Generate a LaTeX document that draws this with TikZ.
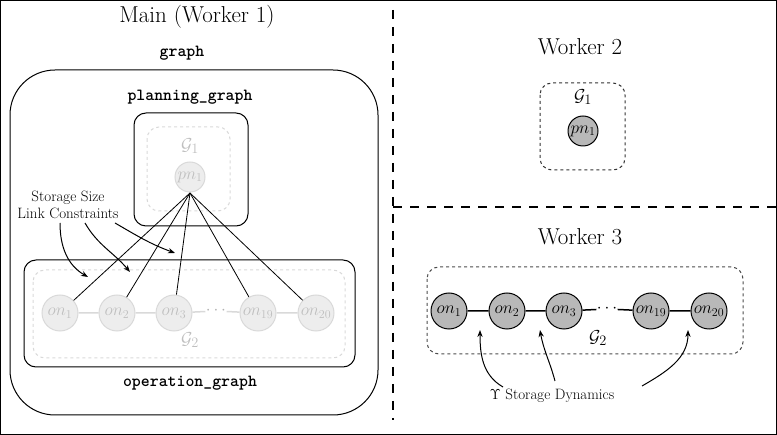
\documentclass[tikz,border=0pt]{standalone}
\usetikzlibrary{arrows.meta}
\begin{document}
\begin{tikzpicture}[x=1pt,y=-1pt,line width=1pt,
  lbl/.style={font=\fontsize{23}{26}\selectfont},
  tt/.style={font=\fontsize{17}{20}\selectfont\ttfamily\bfseries},
  small/.style={font=\fontsize{15}{17}\selectfont, align=center, inner sep=1pt},
  on/.style={circle,draw=black,fill=black!28,minimum size=36pt,inner sep=0pt,font=\fontsize{18}{20}\selectfont},
  pn/.style={circle,draw=black,fill=black!28,minimum size=30pt,inner sep=0pt,font=\fontsize{18}{20}\selectfont},
  fon/.style={on,draw=black!15,fill=black!7,text=black!25},
  fpn/.style={pn,draw=black!15,fill=black!7,text=black!25},
  gl/.style={font=\fontsize{19}{21}\selectfont},
  arr/.style={-{Stealth[length=7pt]}},
  dbox/.style={dashed,rounded corners=12pt}]
\useasboundingbox (0,0) rectangle (777,435);
\draw[line width=1.5pt] (0.7,0.7) rectangle (776.3,434.3);
% separators
\coordinate (v1) at (393,10); \coordinate (v2) at (393,420);
\coordinate (h1) at (393,207); \coordinate (h2) at (777,207);
\draw[line width=1.5pt,dash pattern=on 9pt off 8pt] (v1) -- (v2);
\draw[line width=1.5pt,dash pattern=on 9pt off 8pt] (h1) -- (h2);
% Main
\node[lbl] (mainl) at (197,17) {Main (Worker 1)};
\node[tt] (graphl) at (182,53) {graph};
\draw[rounded corners=45pt] (10,70) rectangle (378,415);
\node[tt] (pgl) at (190,97) {planning\_graph};
\draw[rounded corners=12pt] (134,113) rectangle (248,226);
\draw[dbox,draw=black!15] (147,127) rectangle (230,211);
\node[gl,text=black!25] (g1a) at (190,146) {$\mathcal{G}_1$};
\node[fpn] (p) at (190,177) {$pn_1$};
\draw[rounded corners=12pt] (24,260) rectangle (355,367);
\draw[dbox,draw=black!15] (33,270) rectangle (345,358);
\node[fon] (a1) at (60,313) {$on_1$};
\node[fon] (a2) at (117,313) {$on_2$};
\node[fon] (a3) at (174,313) {$on_3$};
\node[fon] (a19) at (258,313) {$on_{19}$};
\node[fon] (a20) at (316,313) {$on_{20}$};
\node[text=black!30,inner sep=0pt,gl] (ad) at (216,311) {$\cdots$};
\draw[black!15,line width=1.5pt] (a1)--(a2) (a2)--(a3) (a3)--(ad) (ad)--(a19) (a19)--(a20);
\node[gl,text=black!25] (g2a) at (190,340) {$\mathcal{G}_2$};
\node[tt] (ogl) at (190,383) {operation\_graph};
\coordinate (pb) at (190,193);
\foreach \n in {a1,a2,a3,a19,a20} \draw[line width=0.8pt] (pb) -- (\n);
\node[small] (ssl) at (68,205) {Storage Size\\Link Constraints};
\coordinate (c1) at (88,277); \coordinate (c2) at (130,272); \coordinate (c3) at (175,253);
\draw[arr] (60,223) to[out=-90,in=150] (c1);
\draw[arr] (85,223) to[out=-60,in=130] (c2);
\draw[arr] (115,223) to[out=-30,in=160] (c3);
% Worker 2
\node[lbl] (w2) at (580,47) {Worker 2};
\draw[dbox,draw=black!80] (540,83) rectangle (625,170);
\node[gl] (g1b) at (583,97) {$\mathcal{G}_1$};
\node[pn] (q) at (583,131) {$pn_1$};
% Worker 3
\node[lbl] (w3) at (580,237) {Worker 3};
\draw[dbox,draw=black!70] (427,267) rectangle (743,354);
\node[on] (b1) at (449,311) {$on_1$};
\node[on] (b2) at (507,311) {$on_2$};
\node[on] (b3) at (564,311) {$on_3$};
\node[on] (b19) at (651,311) {$on_{19}$};
\node[on] (b20) at (709,311) {$on_{20}$};
\node[inner sep=0pt,gl] (bd) at (607,309) {$\cdots$};
\draw[line width=1.5pt] (b1)--(b2) (b2)--(b3) (b3)--(bd) (bd)--(b19) (b19)--(b20);
\node[gl] (g2b) at (598,338) {$\mathcal{G}_2$};
\node[small] (ysd) at (552,396) {$\Upsilon$ Storage Dynamics};
\coordinate (d1) at (480,330); \coordinate (d2) at (540,330); \coordinate (d3) at (688,330);
\draw[arr] (503,387) to[out=150,in=-90] (d1);
\draw[arr] (555,381) to[out=105,in=-80] (d2);
\draw[arr] (642,386) to[out=30,in=-90] (d3);
\end{tikzpicture}
\end{document}
